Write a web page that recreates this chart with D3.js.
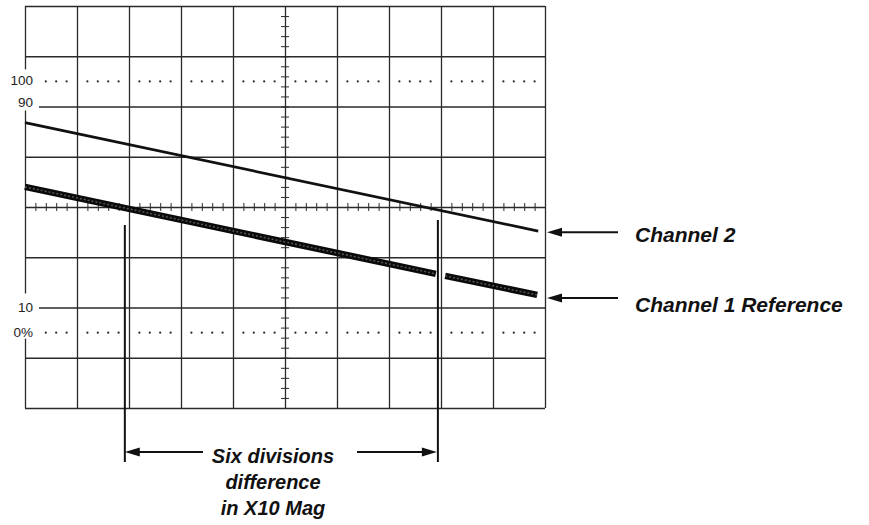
<!DOCTYPE html>
<html><head><meta charset="utf-8">
<script src="https://cdn.jsdelivr.net/npm/d3@7"></script>
<style>
html,body{margin:0;padding:0;background:#fff;}
svg{display:block;}
text{font-family:"Liberation Sans",Arial,Helvetica,sans-serif;}
</style></head>
<body>
<svg id="chart" width="869" height="525"></svg>
<script>
// ---- data (graticule divisions) ----
const xDivisions = [0,1,2,3,4,5,6,7,8,9,10];
const yDivisions = [-4,-3,-2,-1,0,1,2,3,4];
const levelLabels = ["100","90","10","0%"];
const levelValues = [2.5, 2.0, -2.0, -2.5];
const dottedLevels = [2.5, -2.5];
const channel2 = [{x:0, y:1.68}, {x:9.87, y:-0.48}];
const channel1Left = [{x:0, y:0.40}, {x:7.90, y:-1.33}];
const channel1Right = [{x:8.08, y:-1.37}, {x:9.85, y:-1.75}];
const markers = [1.92, 7.94];
const channelLabels = ["Channel 2", "Channel 1 Reference"];
const channelArrowLevels = [-0.50, -1.81];
const bottomLines = ["Six divisions", "difference", "in X10 Mag"];

// ---- layout ----
const svg = d3.select("#chart");
const x = d3.scaleLinear().domain([0,10]).range([25,545]);
const y = d3.scaleLinear().domain([-4,4]).range([408,6]);
const ink = "#2a2a2a";

// grid via axes
const gx = svg.append("g").attr("transform",`translate(0,${y(-4)})`)
  .call(d3.axisBottom(x).tickValues(xDivisions).tickSize(-(y(-4)-y(4))).tickFormat(""));
const gy = svg.append("g").attr("transform",`translate(${x(0)},0)`)
  .call(d3.axisLeft(y).tickValues(yDivisions).tickSize(-(x(10)-x(0))).tickFormat(""));
[gx,gy].forEach(g=>{
  g.select(".domain").remove();
  g.selectAll(".tick line").attr("stroke",ink).attr("stroke-width",1.3);
});

// minor ticks on centre axes
const minorX = d3.range(0, 10.001, 0.2);
const minorY = d3.range(-4, 4.001, 0.2);
const cx = svg.append("g").attr("transform",`translate(0,${y(0)})`)
  .call(d3.axisBottom(x).tickValues(minorX).tickSize(4).tickFormat(""));
cx.select(".domain").remove();
cx.selectAll(".tick line").attr("y1",-4).attr("stroke",ink).attr("stroke-width",1);
const cy = svg.append("g").attr("transform",`translate(${x(5)},0)`)
  .call(d3.axisLeft(y).tickValues(minorY).tickSize(4).tickFormat(""));
cy.select(".domain").remove();
cy.selectAll(".tick line").attr("x1",4).attr("stroke",ink).attr("stroke-width",1);

// dotted 100% / 0% lines
dottedLevels.forEach(lv=>{
  const pts = [];
  for (let d=0; d<10; d++) for (let k=1;k<=4;k++) pts.push(d + k*0.2);
  svg.append("g").selectAll("circle").data(pts).join("circle")
    .attr("cx",d=>x(d)).attr("cy",y(lv)).attr("r",1.1).attr("fill",ink);
});

// label backgrounds + labels
svg.append("rect").attr("x",0).attr("y",y(2.5)-12).attr("width",39).attr("height",y(2.0)-y(2.5)+16).attr("fill","#fff");
svg.append("rect").attr("x",0).attr("y",y(-2.0)-14).attr("width",39).attr("height",y(-2.5)-y(-2.0)+20).attr("fill","#fff");
const labelDy = [3.5, 0.5, 4.5, 4];
svg.append("g").selectAll("text").data(levelLabels).join("text")
  .attr("x",33).attr("y",(d,i)=>y(levelValues[i])+labelDy[i])
  .attr("text-anchor","end").attr("font-size",13.5).attr("fill","#222")
  .text(d=>d);

// traces
const line = d3.line().x(d=>x(d.x)).y(d=>y(d.y));
svg.append("path").datum(channel2).attr("d",line)
  .attr("fill","none").attr("stroke","#111").attr("stroke-width",2.7);
[channel1Left, channel1Right].forEach(seg=>{
  svg.append("path").datum(seg).attr("d",line)
    .attr("fill","none").attr("stroke","#0a0a0a").attr("stroke-width",6.5);
  svg.append("path").datum(seg).attr("d",line)
    .attr("fill","none").attr("stroke","#555").attr("stroke-width",1.5)
    .attr("stroke-dasharray","2,2");
});

// marker lines
const markBottom = 462;
const markTops = [225, 220];
markers.forEach((m,i)=>{
  svg.append("line").attr("x1",x(m)).attr("x2",x(m))
    .attr("y1",markTops[i]).attr("y2",markBottom)
    .attr("stroke","#111").attr("stroke-width",2);
});

// arrow helper
function arrow(x1, x2, yy) { // tip at x2
  const dir = Math.sign(x2-x1);
  svg.append("line").attr("x1",x1).attr("x2",x2-dir*10).attr("y1",yy).attr("y2",yy)
    .attr("stroke","#111").attr("stroke-width",2);
  svg.append("path")
    .attr("d",`M${x2},${yy} L${x2-dir*15},${yy-4.5} L${x2-dir*15},${yy+4.5} Z`)
    .attr("fill","#111");
}

// bottom arrows and text
const arrowY = 452;
arrow(203, x(markers[0]), arrowY);
arrow(357, x(markers[1])-1, arrowY);
const lineBase = [463, 489, 515];
svg.append("g").selectAll("text").data(bottomLines).join("text")
  .attr("x",273).attr("y",(d,i)=>lineBase[i])
  .attr("text-anchor","middle").attr("font-size",20)
  .attr("font-style","italic").attr("font-weight","bold").attr("fill","#111")
  .text(d=>d);

// channel labels
const labelBase = [242, 312];
channelArrowLevels.forEach((lv,i)=>{
  arrow(618, 547, y(lv));
});
svg.append("g").selectAll("text").data(channelLabels).join("text")
  .attr("x",635).attr("y",(d,i)=>labelBase[i])
  .attr("font-size",21).attr("font-style","italic").attr("font-weight","bold")
  .attr("fill","#111").text(d=>d);
</script>
</body></html>
